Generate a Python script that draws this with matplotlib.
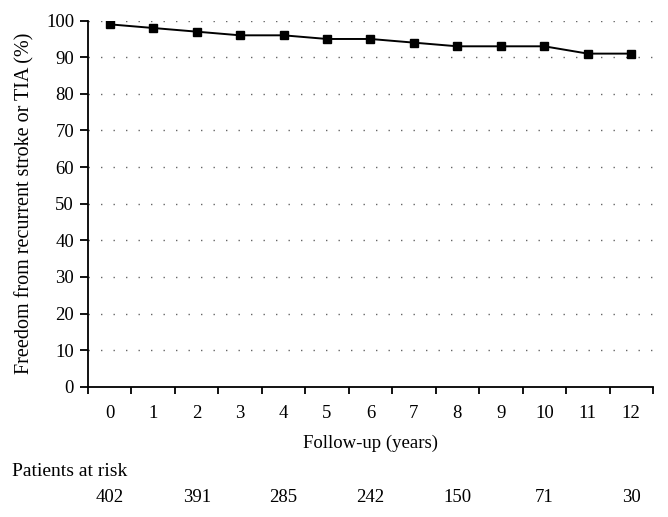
import numpy as np
import matplotlib
matplotlib.use("Agg")
import matplotlib.pyplot as plt
import matplotlib.transforms as mtransforms

plt.rcParams['font.family'] = ['Liberation Serif', 'DejaVu Serif']

years = list(range(13))
freedom = [99, 98, 97, 96, 96, 95, 95, 94, 93, 93, 93, 91, 91]
risk_years = [0, 2, 4, 6, 8, 10, 12]
at_risk = [402, 391, 285, 242, 150, 71, 30]

fs = 13.5

fig = plt.figure(figsize=(6.68, 5.17), dpi=100)
ax = fig.add_axes([0.1317, 0.252, 0.8458, 0.708])

ax.plot(years, freedom, color='black', lw=1.4, marker='s', ms=5.5)

ax.set_xlim(-0.5, 12.5)
ax.set_ylim(0, 100)
ax.set_yticks(np.arange(0, 101, 10))
ax.set_xticks(years)
ax.set_xticks(np.arange(-0.5, 13, 1), minor=True)
ax.tick_params(axis='x', which='major', length=0, pad=13, labelsize=fs)
ax.tick_params(axis='x', which='minor', length=5, width=1.3, direction='out')
ax.tick_params(axis='y', length=6, width=1.3, direction='out', pad=4, labelsize=fs)

for v in range(10, 101, 10):
    ax.axhline(v, color='#666666', lw=1.0, ls=(0, (1, 8)), zorder=0)

for s in ['top', 'right']:
    ax.spines[s].set_visible(False)
for s in ['left', 'bottom']:
    ax.spines[s].set_linewidth(1.3)

ax.set_ylabel('Freedom from recurrent stroke or TIA (%)', fontsize=14.5, labelpad=8)
ax.set_xlabel('Follow-up (years)', fontsize=fs, labelpad=9)

fig.text(0.018, 1 - 471 / 517, 'Patients at risk', fontsize=fs + 0.5, va='center', ha='left')
trans = mtransforms.blended_transform_factory(ax.transData, fig.transFigure)
for yr, n in zip(risk_years, at_risk):
    ax.text(yr, 1 - 497 / 517, str(n), transform=trans, ha='center', va='center',
            fontsize=fs, clip_on=False)

fig.savefig('out.png', dpi=100)
